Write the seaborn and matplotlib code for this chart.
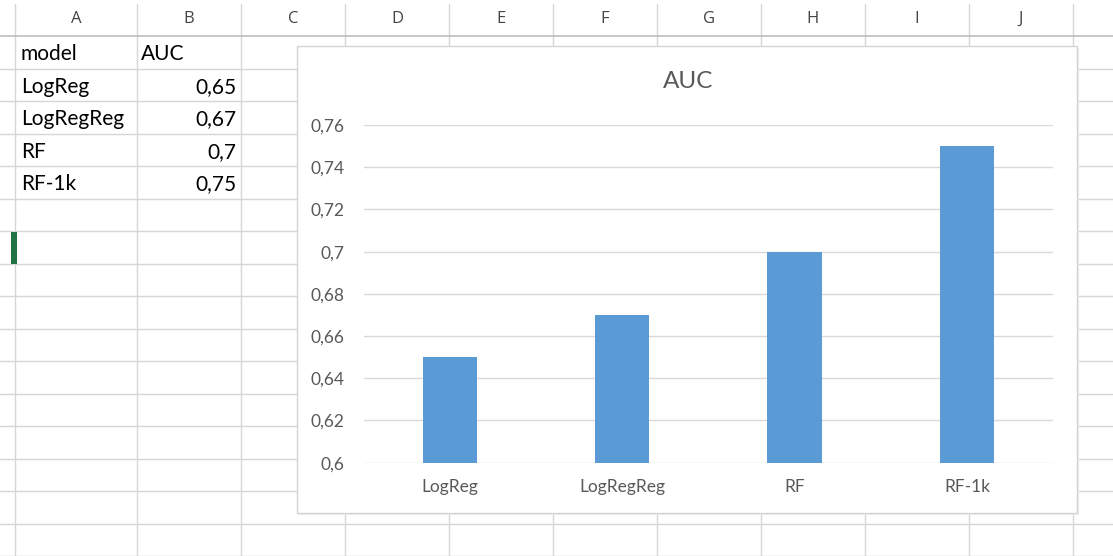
import matplotlib
matplotlib.use("Agg")
import matplotlib.pyplot as plt
from matplotlib.patches import Rectangle
import seaborn as sns
import pandas as pd

# ---- data ----
models = ["LogReg", "LogRegReg", "RF", "RF-1k"]
auc = [0.65, 0.67, 0.70, 0.75]
auc_cell_text = ["0,65", "0,67", "0,7", "0,75"]
header_cells = ["model", "AUC"]
column_letters = ["A", "B", "C", "D", "E", "F", "G", "H", "I", "J"]
y_ticks = [0.60, 0.62, 0.64, 0.66, 0.68, 0.70, 0.72, 0.74, 0.76]
y_tick_labels = ["0,6", "0,62", "0,64", "0,66", "0,68", "0,7", "0,72", "0,74", "0,76"]
chart_title = "AUC"

sns.set_theme(style="white")
plt.rcParams["font.family"] = ["Lato", "DejaVu Sans"]

W, H = 1113, 556
fig = plt.figure(figsize=(W / 100, H / 100), dpi=100)
fig.patch.set_facecolor("white")

# ---- spreadsheet background ----
bg = fig.add_axes([0, 0, 1, 1])
bg.set_xlim(0, W)
bg.set_ylim(H, 0)
bg.axis("off")

col_edges = [15, 137, 241, 345, 449, 553, 657, 761, 865, 969, 1073]
row_edges = [36 + 32.5 * i for i in range(17)]
grid_c = "#D6D6D6"
for x in col_edges:
    bg.plot([x, x], [4, H], color=grid_c, lw=1, zorder=1)
for y in row_edges[1:]:
    bg.plot([0, W], [y, y], color=grid_c, lw=1, zorder=1)
bg.plot([0, W], [row_edges[0], row_edges[0]], color="#BDBDBD", lw=1.2, zorder=1)

# column letters
for i, letter in enumerate(column_letters):
    cx = (col_edges[i] + col_edges[i + 1]) / 2
    bg.text(cx, 19, letter, ha="center", va="center", fontsize=12,
            color="#444444", family=["Open Sans", "DejaVu Sans"], zorder=2)

# selection marker
bg.add_patch(Rectangle((11, 231.5), 6, 32.5, facecolor="#217346", edgecolor="none", zorder=2))

# table cells
cell_fs = 15


def row_center(r):
    return (row_edges[r] + row_edges[r + 1]) / 2 + 2


bg.text(21, row_center(0), header_cells[0], ha="left", va="center", fontsize=cell_fs, color="black", zorder=2)
bg.text(141, row_center(0), header_cells[1], ha="left", va="center", fontsize=cell_fs, color="black", zorder=2)
for i, (m, v) in enumerate(zip(models, auc_cell_text)):
    bg.text(21, row_center(i + 1), m, ha="left", va="center", fontsize=cell_fs, color="black", zorder=2)
    bg.text(236, row_center(i + 1), v, ha="right", va="center", fontsize=cell_fs, color="black", zorder=2)

# chart box
bg.add_patch(Rectangle((299, 48), 780, 467, facecolor="#EEEEEE", edgecolor="none", zorder=3))
bg.add_patch(Rectangle((297, 46), 780, 467, facecolor="white", edgecolor="#D4D4D4", lw=1, zorder=3))
bg.text(688, 81, chart_title, ha="center", va="center", fontsize=17.5, color="#595959", zorder=4)

# ---- bar chart ----
px_left, px_right = 363.6, 1053.2
py_bottom, py_top = 462.7, 125
ax = fig.add_axes([px_left / W, (H - py_bottom) / H, (px_right - px_left) / W, (py_bottom - py_top) / H])
ax.set_zorder(5)
ax.patch.set_alpha(0)

df = pd.DataFrame({"model": models, "AUC": auc})
sns.barplot(data=df, x="model", y="AUC", color="#5B9BD5", saturation=1, width=0.315, ax=ax)
for b in ax.patches:
    b.set_zorder(3)
    b.set_edgecolor("none")

ax.set_ylim(0.6, 0.76)
ax.set_yticks(y_ticks)
ax.set_yticklabels(y_tick_labels)
ax.yaxis.grid(True, color="#D9D9D9", lw=1)
ax.xaxis.grid(False)
ax.set_axisbelow(True)
for s in ax.spines.values():
    s.set_visible(False)
ax.set_xlabel("")
ax.set_ylabel("")
ax.tick_params(axis="y", length=0, pad=13.5, labelsize=12.5, labelcolor="#595959")
ax.tick_params(axis="x", length=0, pad=12, labelsize=12.5, labelcolor="#595959")

fig.savefig("out.png", dpi=100, facecolor="white")
